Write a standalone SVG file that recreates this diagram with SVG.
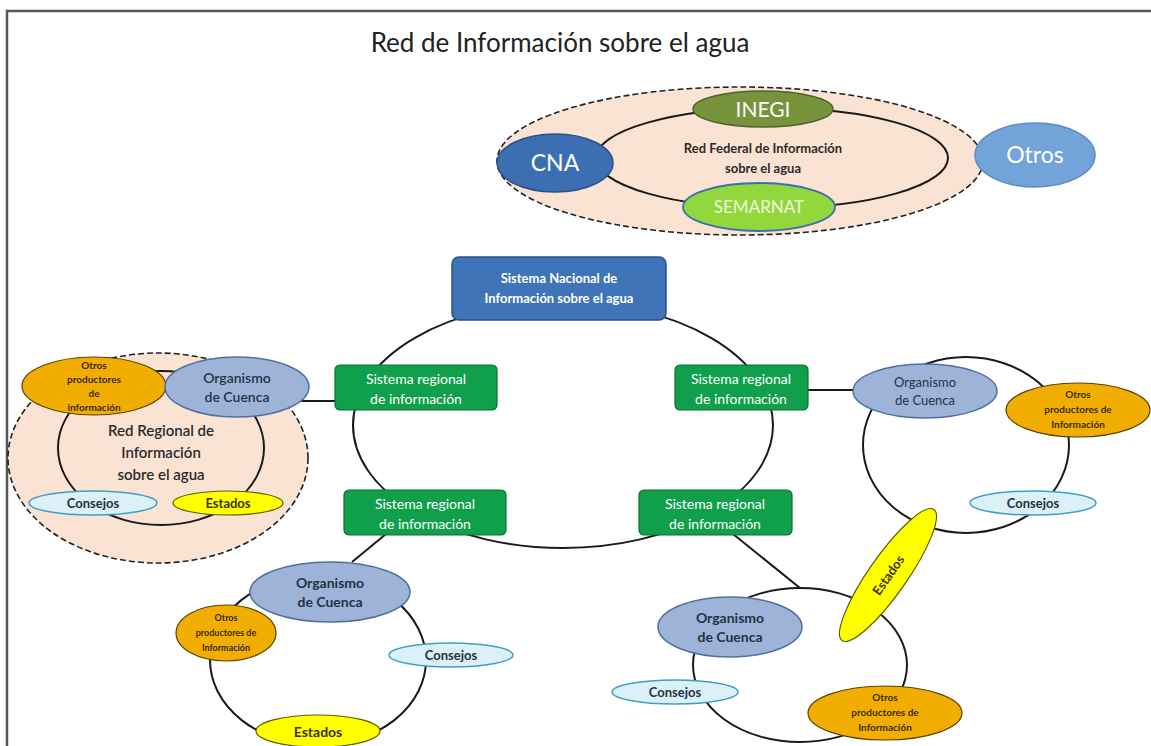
<svg xmlns="http://www.w3.org/2000/svg" width="1151" height="746" viewBox="0 0 1151 746">
  <style>
    .t { font-family: Lato, "Liberation Sans", sans-serif; text-anchor: middle; }
    .ring { fill: none; stroke: #1a1a1a; stroke-width: 2; }
    .link { stroke: #1a1a1a; stroke-width: 2; fill: none; }
    .zone { fill: #fbe3d3; stroke: #222; stroke-width: 1.6; stroke-dasharray: 6 3; }
    .org { fill: #9db4d8; stroke: #4f6fa3; stroke-width: 1.5; }
    .otros { fill: #f2ae00; stroke: #5a4200; stroke-width: 1.2; }
    .cons { fill: #dcf0f7; stroke: #3f9fc2; stroke-width: 1.5; }
    .est { fill: #ffff00; stroke: #5c5c00; stroke-width: 1.2; }
    .sr { fill: #10a04c; stroke: #0b6e33; stroke-width: 1.2; }
    .dark { fill: #243246; }
    .brown { fill: #3b2a00; font-weight: bold; }
    .white { fill: #ffffff; }
  </style>

  <!-- frame -->
  <path d="M7 746 V11 H1151" fill="none" stroke="#555" stroke-width="2.5"/>

  <text class="t" x="560" y="52" font-size="26" fill="#222">Red de Información sobre el agua</text>

  <!-- shaded network zones -->
  <ellipse class="zone" cx="740" cy="161" rx="243" ry="74"/>
  <ellipse class="zone" cx="158" cy="458" rx="150" ry="105"/>

  <g id="connectors">
    <!-- federal ring -->
    <ellipse class="ring" cx="772" cy="158" rx="176" ry="50"/>
    <!-- national ring -->
    <ellipse class="ring" cx="563" cy="425" rx="210" ry="123"/>
    <!-- regional rings -->
    <ellipse class="ring" cx="161" cy="448" rx="103" ry="77" fill="#fff"/>
    <ellipse class="ring" cx="966" cy="445" rx="103" ry="88"/>
    <ellipse class="ring" cx="318" cy="660" rx="108" ry="85"/>
    <ellipse class="ring" cx="800" cy="665" rx="107" ry="77"/>
    <!-- links from regional systems -->
    <line class="link" x1="300" y1="401" x2="336" y2="401"/>
    <line class="link" x1="808" y1="390" x2="856" y2="390"/>
    <line class="link" x1="386" y1="534" x2="352" y2="562"/>
    <line class="link" x1="733" y1="534" x2="800" y2="588"/>
  </g>

  <!-- federal network -->
  <g id="red-federal-label">
    <text class="t" x="763" y="153" font-size="13" font-weight="bold" fill="#2b2b2b">Red Federal de Información</text>
    <text class="t" x="763" y="173" font-size="13" font-weight="bold" fill="#2b2b2b">sobre el agua</text>
  </g>
  <g id="cna">
    <ellipse cx="555" cy="163" rx="58" ry="29" fill="#3b6fb1" stroke="#2a5288" stroke-width="1.5"/>
    <text class="t white" x="555" y="171" font-size="23">CNA</text>
  </g>
  <g id="inegi">
    <ellipse cx="763" cy="109" rx="70" ry="18" fill="#77933c" stroke="#4f6228" stroke-width="1.5"/>
    <text class="t white" x="763" y="117" font-size="21">INEGI</text>
  </g>
  <g id="semarnat">
    <ellipse cx="759" cy="207" rx="76" ry="24" fill="#92d83c" stroke="#3a6fb1" stroke-width="1.8"/>
    <text class="t" x="759" y="213" font-size="17" fill="#f2f7e0">SEMARNAT</text>
  </g>
  <g id="otros">
    <ellipse cx="1035" cy="155" rx="60" ry="32" fill="#72a3d9" stroke="#5b8cc4" stroke-width="1.5"/>
    <text class="t white" x="1035" y="163" font-size="23">Otros</text>
  </g>

  <!-- national system -->
  <g id="sistema-nacional">
    <rect x="452" y="257" width="214" height="63" rx="7" fill="#3f74b8" stroke="#2a5288" stroke-width="1.5"/>
    <text class="t white" x="559" y="283" font-size="13" font-weight="bold">Sistema Nacional de</text>
    <text class="t white" x="559" y="303" font-size="13" font-weight="bold">Información sobre el agua</text>
  </g>
  <g id="sr-1">
    <rect x="335" y="365" width="162" height="45" rx="5" class="sr"/>
    <text class="t white" x="416" y="384" font-size="14">Sistema regional</text>
    <text class="t white" x="416" y="404" font-size="14">de información</text>
  </g>
  <g id="sr-2">
    <rect x="675" y="365" width="133" height="45" rx="5" class="sr"/>
    <text class="t white" x="741" y="384" font-size="14">Sistema regional</text>
    <text class="t white" x="741" y="404" font-size="14">de información</text>
  </g>
  <g id="sr-3">
    <rect x="344" y="490" width="162" height="45" rx="5" class="sr"/>
    <text class="t white" x="425" y="509" font-size="14">Sistema regional</text>
    <text class="t white" x="425" y="529" font-size="14">de información</text>
  </g>
  <g id="sr-4">
    <rect x="639" y="490" width="153" height="45" rx="5" class="sr"/>
    <text class="t white" x="715" y="509" font-size="14">Sistema regional</text>
    <text class="t white" x="715" y="529" font-size="14">de información</text>
  </g>

  <!-- west regional network -->
  <g id="red-regional-label">
    <text class="t" x="161" y="436" font-size="15" font-weight="600" fill="#2b2b2b">Red Regional de</text>
    <text class="t" x="161" y="458" font-size="15" font-weight="600" fill="#2b2b2b">Información</text>
    <text class="t" x="161" y="480" font-size="15" font-weight="600" fill="#2b2b2b">sobre el agua</text>
  </g>
  <g id="w-otros">
    <ellipse class="otros" cx="94" cy="386" rx="72" ry="29"/>
    <text class="t brown" x="94" y="369" font-size="10">Otros</text>
    <text class="t brown" x="94" y="383" font-size="10">productores</text>
    <text class="t brown" x="94" y="397" font-size="10">de</text>
    <text class="t brown" x="94" y="411" font-size="10">información</text>
  </g>
  <g id="w-organismo">
    <ellipse class="org" cx="237" cy="387" rx="72" ry="30"/>
    <text class="t dark" x="237" y="383" font-size="14" font-weight="600">Organismo</text>
    <text class="t dark" x="237" y="402" font-size="14" font-weight="600">de Cuenca</text>
  </g>
  <g id="w-consejos">
    <ellipse class="cons" cx="93" cy="503" rx="64" ry="12"/>
    <text class="t dark" x="93" y="508" font-size="13" font-weight="bold">Consejos</text>
  </g>
  <g id="w-estados">
    <ellipse class="est" cx="228" cy="503" rx="55" ry="12"/>
    <text class="t" x="228" y="508" font-size="13" font-weight="bold" fill="#3b3200">Estados</text>
  </g>

  <!-- east regional network -->
  <g id="e-organismo">
    <ellipse class="org" cx="925" cy="391" rx="72" ry="27"/>
    <text class="t dark" x="925" y="387" font-size="13">Organismo</text>
    <text class="t dark" x="925" y="405" font-size="13">de Cuenca</text>
  </g>
  <g id="e-otros">
    <ellipse class="otros" cx="1078" cy="410" rx="72" ry="27"/>
    <text class="t brown" x="1078" y="398" font-size="10">Otros</text>
    <text class="t brown" x="1078" y="413" font-size="10">productores de</text>
    <text class="t brown" x="1078" y="428" font-size="10">Información</text>
  </g>
  <g id="e-consejos">
    <ellipse class="cons" cx="1033" cy="503" rx="63" ry="12"/>
    <text class="t dark" x="1033" y="508" font-size="13" font-weight="bold">Consejos</text>
  </g>
  <g id="e-estados" transform="translate(888 575) rotate(-55)">
    <ellipse class="est" cx="0" cy="0" rx="80" ry="19"/>
    <text class="t" x="0" y="5" font-size="13" font-weight="bold" fill="#3b3200">Estados</text>
  </g>

  <!-- south-west regional network -->
  <g id="sw-organismo">
    <ellipse class="org" cx="330" cy="592" rx="80" ry="30"/>
    <text class="t dark" x="330" y="588" font-size="14" font-weight="bold">Organismo</text>
    <text class="t dark" x="330" y="607" font-size="14" font-weight="bold">de Cuenca</text>
  </g>
  <g id="sw-otros">
    <ellipse class="otros" cx="226" cy="633" rx="50" ry="28"/>
    <text class="t brown" x="226" y="621" font-size="9">Otros</text>
    <text class="t brown" x="226" y="636" font-size="9">productores de</text>
    <text class="t brown" x="226" y="651" font-size="9">Información</text>
  </g>
  <g id="sw-consejos">
    <ellipse class="cons" cx="451" cy="655" rx="62" ry="12"/>
    <text class="t dark" x="451" y="660" font-size="13" font-weight="bold">Consejos</text>
  </g>
  <g id="sw-estados">
    <ellipse class="est" cx="318" cy="731" rx="62" ry="16"/>
    <text class="t" x="318" y="737" font-size="14" font-weight="bold" fill="#3b3200">Estados</text>
  </g>

  <!-- south-east regional network -->
  <g id="se-organismo">
    <ellipse class="org" cx="730" cy="627" rx="72" ry="30"/>
    <text class="t dark" x="730" y="623" font-size="14" font-weight="bold">Organismo</text>
    <text class="t dark" x="730" y="642" font-size="14" font-weight="bold">de Cuenca</text>
  </g>
  <g id="se-consejos">
    <ellipse class="cons" cx="675" cy="692" rx="63" ry="12"/>
    <text class="t dark" x="675" y="697" font-size="13" font-weight="bold">Consejos</text>
  </g>
  <g id="se-otros">
    <ellipse class="otros" cx="885" cy="713" rx="77" ry="27"/>
    <text class="t brown" x="885" y="701" font-size="10">Otros</text>
    <text class="t brown" x="885" y="716" font-size="10">productores de</text>
    <text class="t brown" x="885" y="731" font-size="10">Información</text>
  </g>
</svg>
